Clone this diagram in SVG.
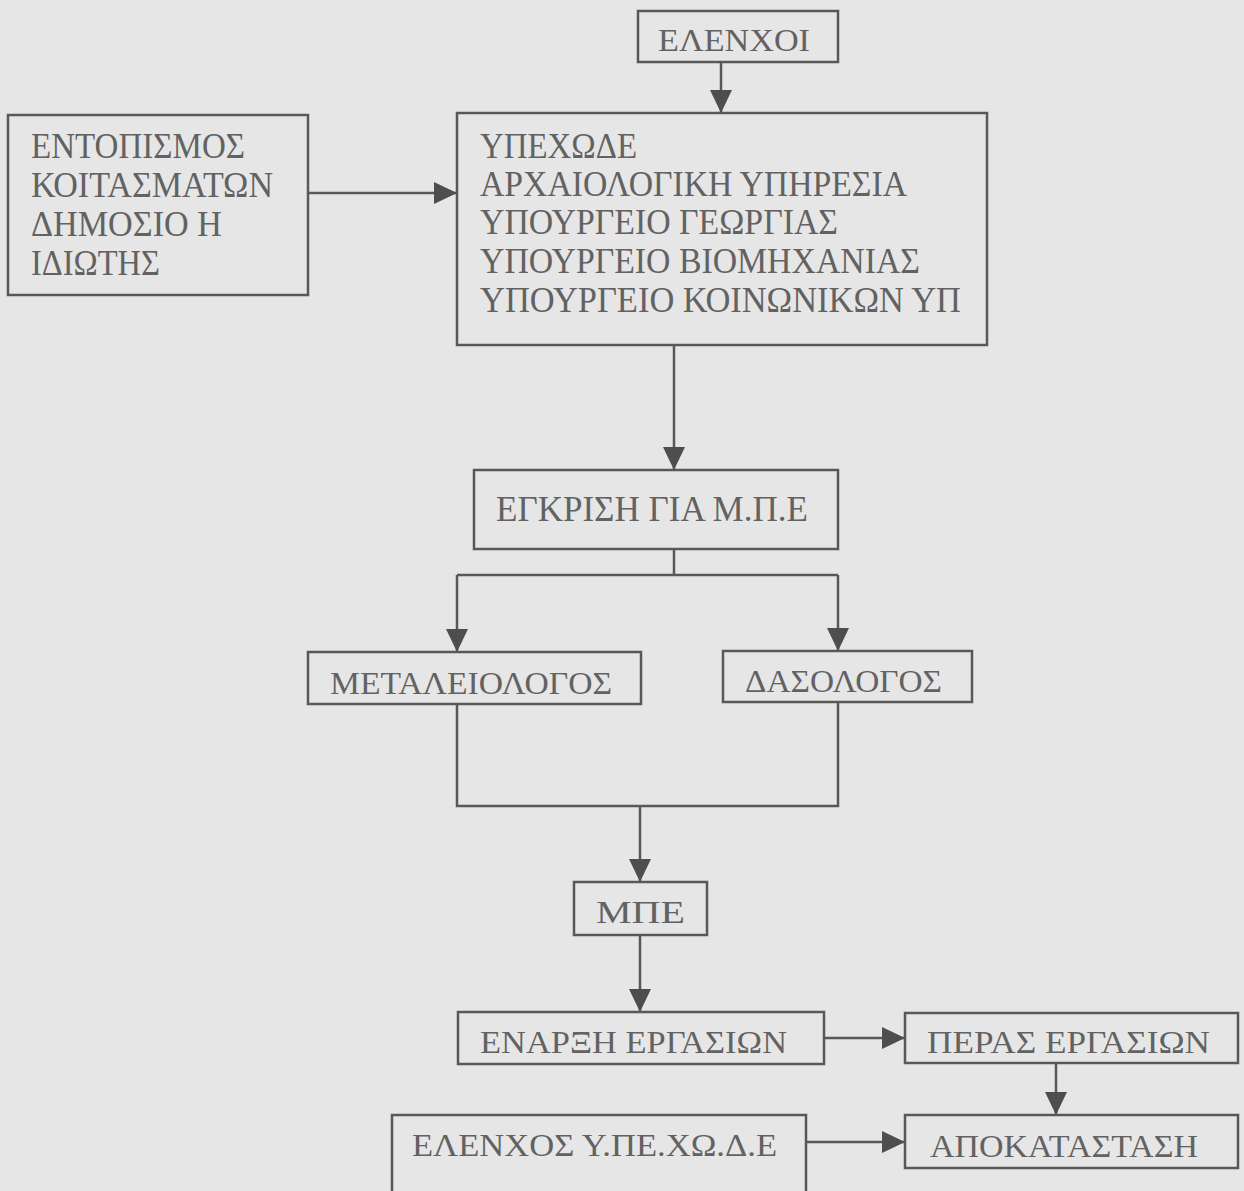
<svg xmlns="http://www.w3.org/2000/svg" width="1244" height="1191" viewBox="0 0 1244 1191">
<defs>
<marker id="ah" markerUnits="userSpaceOnUse" markerWidth="24" markerHeight="22" refX="23" refY="11" orient="auto">
<path d="M0,0 L23,11 L0,22 Z" fill="#4e4e4e"/>
</marker>
<style>
.b{fill:none;stroke:#585858;stroke-width:2.5}
.c{fill:none;stroke:#585858;stroke-width:2.5}
.t{font-family:"Liberation Serif","Times New Roman",serif;fill:#626262;font-size:35px}
.s{font-family:"Liberation Serif","Times New Roman",serif;fill:#626262;font-size:32px}
</style>
</defs>
<rect width="1244" height="1191" fill="#e6e6e6"/>
<g id="connectors">
<line class="c" x1="721" y1="62" x2="721" y2="113" marker-end="url(#ah)"/>
<line class="c" x1="308" y1="193" x2="457" y2="193" marker-end="url(#ah)"/>
<line class="c" x1="674" y1="345" x2="674" y2="470" marker-end="url(#ah)"/>
<polyline class="c" points="674,549 674,575"/>
<polyline class="c" points="457,575 838,575"/>
<line class="c" x1="457" y1="575" x2="457" y2="652" marker-end="url(#ah)"/>
<line class="c" x1="838" y1="575" x2="838" y2="651" marker-end="url(#ah)"/>
<polyline class="c" points="457,704 457,806 838,806 838,702"/>
<line class="c" x1="640" y1="806" x2="640" y2="882" marker-end="url(#ah)"/>
<line class="c" x1="640" y1="935" x2="640" y2="1012" marker-end="url(#ah)"/>
<line class="c" x1="824" y1="1038" x2="905" y2="1038" marker-end="url(#ah)"/>
<line class="c" x1="1056" y1="1063" x2="1056" y2="1115" marker-end="url(#ah)"/>
<line class="c" x1="806" y1="1142" x2="905" y2="1142" marker-end="url(#ah)"/>
</g>
<g id="elenxoi">
<rect class="b" x="638" y="11" width="200" height="51"/>
<text class="s" x="658" y="51" textLength="152" lengthAdjust="spacingAndGlyphs">ΕΛΕΝΧΟΙ</text>
</g>
<g id="entopismos">
<rect class="b" x="8" y="115" width="300" height="180"/>
<text class="t" x="31" y="158" textLength="214" lengthAdjust="spacingAndGlyphs">ΕΝΤΟΠΙΣΜΟΣ</text>
<text class="t" x="31" y="197" textLength="242" lengthAdjust="spacingAndGlyphs">ΚΟΙΤΑΣΜΑΤΩΝ</text>
<text class="t" x="31" y="236" textLength="191" lengthAdjust="spacingAndGlyphs">ΔΗΜΟΣΙΟ  Η</text>
<text class="t" x="31" y="275" textLength="129" lengthAdjust="spacingAndGlyphs">ΙΔΙΩΤΗΣ</text>
</g>
<g id="yphresies">
<rect class="b" x="457" y="113" width="530" height="232"/>
<text class="t" x="480" y="158" textLength="157" lengthAdjust="spacingAndGlyphs">ΥΠΕΧΩΔΕ</text>
<text class="t" x="480" y="196" textLength="427" lengthAdjust="spacingAndGlyphs">ΑΡΧΑΙΟΛΟΓΙΚΗ  ΥΠΗΡΕΣΙΑ</text>
<text class="t" x="480" y="234" textLength="358" lengthAdjust="spacingAndGlyphs">ΥΠΟΥΡΓΕΙΟ  ΓΕΩΡΓΙΑΣ</text>
<text class="t" x="480" y="273" textLength="440" lengthAdjust="spacingAndGlyphs">ΥΠΟΥΡΓΕΙΟ  ΒΙΟΜΗΧΑΝΙΑΣ</text>
<text class="t" x="480" y="312" textLength="481" lengthAdjust="spacingAndGlyphs">ΥΠΟΥΡΓΕΙΟ  ΚΟΙΝΩΝΙΚΩΝ  ΥΠ</text>
</g>
<g id="egkrisi">
<rect class="b" x="474" y="470" width="364" height="79"/>
<text class="t" x="496" y="521" textLength="312" lengthAdjust="spacingAndGlyphs">ΕΓΚΡΙΣΗ  ΓΙΑ  Μ.Π.Ε</text>
</g>
<g id="metalleiologos">
<rect class="b" x="308" y="652" width="333" height="52"/>
<text class="s" x="330" y="694" textLength="282" lengthAdjust="spacingAndGlyphs">ΜΕΤΑΛΕΙΟΛΟΓΟΣ</text>
</g>
<g id="dasologos">
<rect class="b" x="723" y="651" width="249" height="51"/>
<text class="s" x="745" y="692" textLength="197" lengthAdjust="spacingAndGlyphs">ΔΑΣΟΛΟΓΟΣ</text>
</g>
<g id="mpe">
<rect class="b" x="574" y="882" width="133" height="53"/>
<text class="s" x="596" y="923" textLength="89" lengthAdjust="spacingAndGlyphs">ΜΠΕ</text>
</g>
<g id="enarxi">
<rect class="b" x="458" y="1012" width="366" height="52"/>
<text class="s" x="480" y="1053" textLength="307" lengthAdjust="spacingAndGlyphs">ΕΝΑΡΞΗ  ΕΡΓΑΣΙΩΝ</text>
</g>
<g id="peras">
<rect class="b" x="905" y="1013" width="333" height="50"/>
<text class="s" x="927" y="1053" textLength="283" lengthAdjust="spacingAndGlyphs">ΠΕΡΑΣ  ΕΡΓΑΣΙΩΝ</text>
</g>
<g id="apokatastasi">
<rect class="b" x="905" y="1115" width="333" height="53"/>
<text class="s" x="930" y="1157" textLength="268" lengthAdjust="spacingAndGlyphs">ΑΠΟΚΑΤΑΣΤΑΣΗ</text>
</g>
<g id="elenxos">
<rect class="b" x="392" y="1115" width="414" height="90"/>
<text class="s" x="412" y="1156" textLength="365" lengthAdjust="spacingAndGlyphs">ΕΛΕΝΧΟΣ  Υ.ΠΕ.ΧΩ.Δ.Ε</text>
</g>
</svg>
